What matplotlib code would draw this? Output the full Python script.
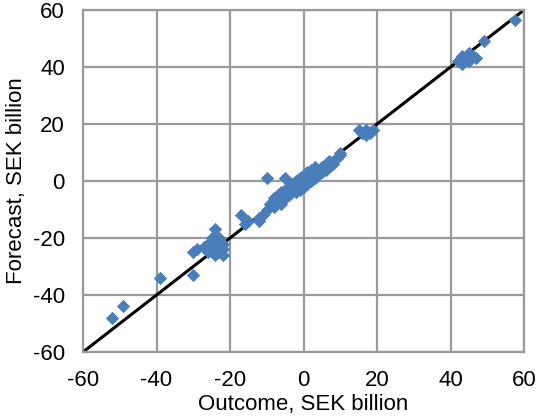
import matplotlib.pyplot as plt

plt.rcParams['font.family'] = ['Liberation Sans', 'DejaVu Sans']
plt.rcParams['axes.unicode_minus'] = False

# outcome vs forecast, SEK billion
outcome = [
    -52, -49, -39, -30, -30, -29, -24,
    -27, -26, -25, -24, -23, -23, -22, -24, -22, -25, -26, -23, -22, -24,
    -17, -16, -15, -12, -11, -10, -10, -12,
    -9, -8, -8, -7, -7, -6, -6, -5, -5, -5, -4, -4, -3, -3, -3, -2, -2, -2,
    -1, -1, -1, 0, 0, 0, 1, 1, 1, 2, 2, 2, 3, 3, 3, 4, 4, 5, 5, 6, 6, 7, 7,
    8, 9, 10, 10,
    15, 16, 17, 17, 18, 19,
    42, 43, 43, 44, 45, 45, 46, 47, 49, 57.5,
]
forecast = [
    -48, -44, -34, -33, -25, -24, -17,
    -23, -22, -24, -21, -23, -25, -26, -26, -22, -20, -25, -20, -24, -23,
    -12, -15, -14, -14, -12, -10, 1, -13,
    -8, -9, -6, -7, -5, -8, -4, -6, -3, 1, -5, -2, -4, -1, -3, -2, 0, -4,
    -1, 1, -3, 0, 2, -2, 1, -1, 3, 2, 0, 4, 3, 1, 5, 4, 2, 5, 3, 6, 4, 5, 7,
    6, 8, 10, 9,
    18, 17, 16, 18, 17, 18,
    42, 41, 44, 43, 42, 45, 44, 43, 49, 56.5,
]

fig = plt.figure(figsize=(5.37, 4.19), dpi=100)
ax = fig.add_axes([0.1546, 0.1599, 0.8212, 0.8162])

ax.plot([-60, 60], [-60, 60], color='black', linewidth=2.2, zorder=2)
ax.scatter(outcome, forecast, marker='D', s=46, color='#4a7ebb',
           linewidths=0, zorder=3)

ax.set_xlim(-60, 60)
ax.set_ylim(-60, 60)
ax.set_xticks(range(-60, 61, 20))
ax.set_yticks(range(-60, 61, 20))
ax.grid(True, color='#9a9a9a', linewidth=1.6)
ax.set_axisbelow(True)
for sp in ax.spines.values():
    sp.set_color('#9a9a9a')
    sp.set_linewidth(1.6)
ax.tick_params(length=0, pad=13, labelsize=16)

ax.set_xlabel('Outcome, SEK billion', fontsize=16, labelpad=2)
ax.set_ylabel('Forecast, SEK billion', fontsize=16, labelpad=4)

fig.savefig('out.png', dpi=100)
